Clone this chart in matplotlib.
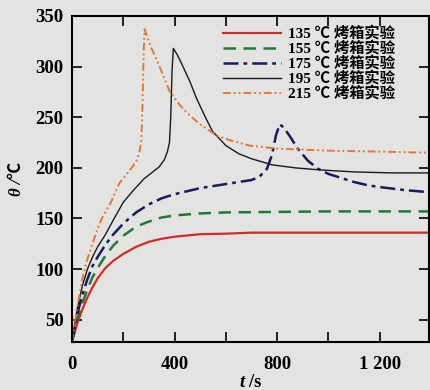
import matplotlib
matplotlib.use('Agg')
import matplotlib.pyplot as plt
from matplotlib.ticker import FixedLocator

plt.rcParams['font.family'] = ['Liberation Serif', 'Noto Sans CJK SC', 'DejaVu Sans']
plt.rcParams['mathtext.fontset'] = 'custom'
plt.rcParams['mathtext.it'] = 'Liberation Serif:italic'
plt.rcParams['mathtext.bfit'] = 'Liberation Serif:italic:bold'
plt.rcParams['mathtext.bf'] = 'Liberation Serif:bold'
plt.rcParams['mathtext.rm'] = 'Liberation Serif'

# oven experiments, temperature vs time
t_135 = [0, 20, 40, 60, 80, 100, 130, 160, 200, 250, 300, 350, 400, 500, 600, 700, 800, 1000, 1200, 1390]
theta_135 = [28, 46, 60, 72, 82, 91, 101, 108, 115, 122, 127, 130, 132, 134.5, 135, 136, 136, 136, 136, 136]

t_155 = [0, 20, 40, 60, 80, 100, 130, 160, 200, 250, 300, 350, 400, 500, 600, 800, 1000, 1200, 1390]
theta_155 = [28, 50, 66, 80, 92, 101, 113, 123, 133, 142, 147, 151, 153, 155, 156, 156.5, 157, 157, 157]

t_175 = [0, 20, 40, 60, 80, 100, 130, 160, 200, 250, 300, 350, 400, 450, 500, 550, 600, 650, 700, 730,
         760, 780, 795, 810, 825, 850, 880, 920, 960, 1000, 1050, 1100, 1150, 1200, 1300, 1390]
theta_175 = [28, 55, 74, 90, 103, 112, 124, 134, 145, 156, 164, 170, 174, 177, 180, 182, 184, 186, 188, 191,
             199, 213, 232, 243, 240, 231, 219, 207, 199, 194, 190, 186, 183, 181, 178, 176]

t_195 = [0, 20, 40, 60, 80, 100, 130, 160, 200, 240, 280, 310, 340, 360, 372, 380, 385, 390, 395, 410,
         431, 460, 485, 520, 548, 600, 650, 700, 780, 870, 966, 1100, 1250, 1390]
theta_195 = [28, 60, 83, 100, 112, 122, 134, 148, 166, 178, 189, 195, 201, 208, 216, 225, 250, 295, 318, 312,
             301, 285, 269, 250, 236, 222, 214, 209, 203, 200, 198, 196, 195, 195]

t_215 = [0, 20, 40, 55, 80, 100, 118, 150, 185, 220, 250, 263, 270, 275, 279, 283, 295, 310, 328, 350,
         380, 420, 458, 500, 563, 620, 692, 800, 900, 1000, 1200, 1390]
theta_215 = [28, 62, 90, 106, 125, 140, 151, 165, 185, 196, 206, 216, 225, 262, 310, 337, 328, 318, 308, 295,
             276, 262, 252, 243, 232, 227, 222, 219, 218, 217, 216, 215]

labels = ['135 ℃ 烤箱实验', '155 ℃ 烤箱实验', '175 ℃ 烤箱实验', '195 ℃ 烤箱实验', '215 ℃ 烤箱实验']
x_ticks = [0, 400, 800, 1200]
x_tick_labels = ['0', '400', '800', '1 200']
y_ticks = [50, 100, 150, 200, 250, 300, 350]

bg = '#e3e4e1'
fig = plt.figure(figsize=(4.3, 3.9), dpi=100, facecolor=bg)
ax = fig.add_axes([72 / 430, 48 / 390, 357 / 430, 326 / 390], facecolor=bg)

ax.plot(t_135, theta_135, color='#d42b22', lw=1.6, ls='-', label=labels[0])
ax.plot(t_155, theta_155, color='#1f7a3a', lw=1.8, dashes=(5, 3), label=labels[1])
ax.plot(t_175, theta_175, color='#1a1a5e', lw=1.8, dashes=(6, 2, 1.5, 2), label=labels[2])
ax.plot(t_195, theta_195, color='#1a1a1a', lw=1.0, ls='-', label=labels[3])
ax.plot(t_215, theta_215, color='#e0783c', lw=1.4, dashes=(4, 1.5, 1, 1.5, 1, 1.5), label=labels[4])

ax.set_xlim(0, 1392)
ax.set_ylim(28, 350)
ax.set_xticks(x_ticks)
ax.set_xticklabels(x_tick_labels)
ax.xaxis.set_minor_locator(FixedLocator([200, 600, 1000]))
ax.set_yticks(y_ticks)

ax.tick_params(which='both', direction='in', length=7, width=1.2, top=True, right=True)
ax.tick_params(axis='x', labelsize=13.5, pad=10)
ax.tick_params(axis='y', labelsize=13.5, pad=6)
for lbl in ax.get_xticklabels() + ax.get_yticklabels():
    lbl.set_fontweight('bold')
for s in ax.spines.values():
    s.set_linewidth(1.5)

ax.set_xlabel(r'$\boldsymbol{t}\ \mathbf{/s}$', fontsize=13.5, labelpad=1)
ax.set_ylabel('θ /℃', fontsize=12, fontweight='bold', fontstyle='italic', labelpad=8)

leg = ax.legend(loc='upper right', bbox_to_anchor=(0.935, 1.0), frameon=False,
                handlelength=3.8, labelspacing=0.0, borderaxespad=0.3, handletextpad=0.45,
                prop={'weight': 'bold', 'size': 11})

fig.savefig('out.png', dpi=100, facecolor=bg)
